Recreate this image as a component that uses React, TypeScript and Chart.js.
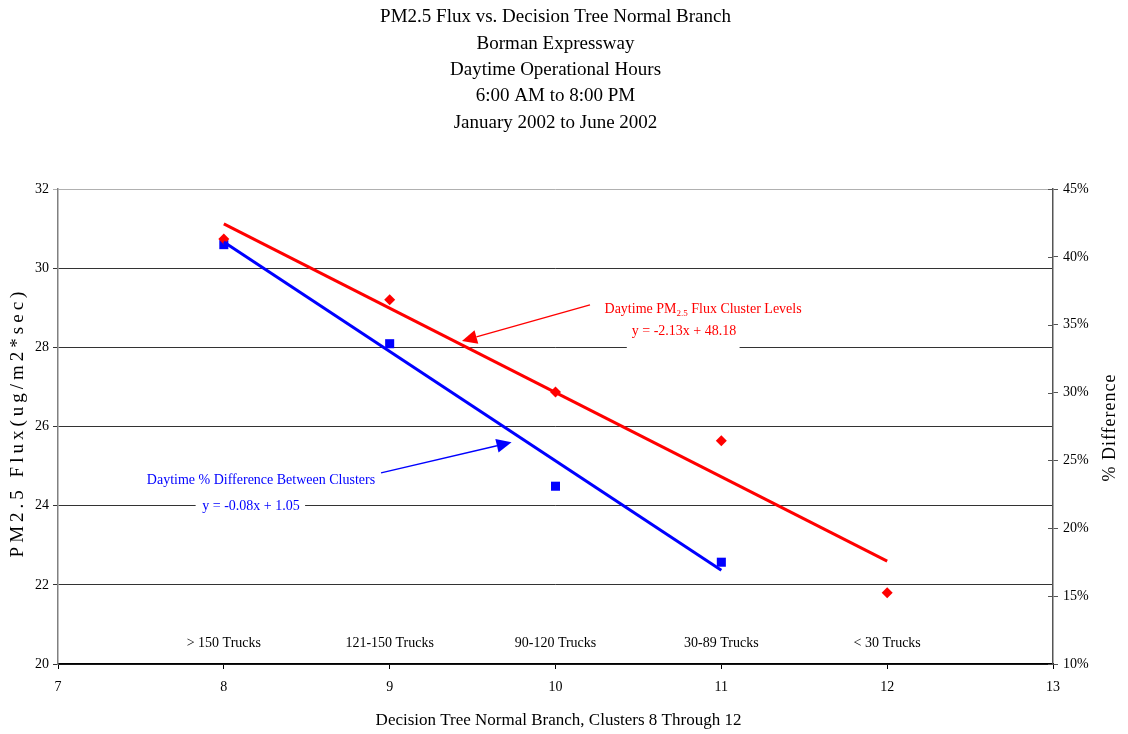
import React, { useEffect, useRef } from 'react';
import { Chart, registerables } from 'chart.js';

Chart.register(...registerables);

const FONT = '"Liberation Serif", "Times New Roman", serif';

const titleLines = [
  'PM2.5 Flux vs. Decision Tree Normal Branch',
  'Borman Expressway',
  'Daytime Operational Hours',
  '6:00 AM to 8:00 PM',
  'January 2002 to June 2002',
];

const fluxClusters = [8, 9, 10, 11, 12];
const fluxValues = [30.74, 29.2, 26.87, 25.64, 21.8];

const pctClusters = [8, 9, 10, 11];
const pctValues = [40.9, 33.6, 23.1, 17.5];

const fluxTrendX = [8, 12];
const fluxTrendY = [31.12, 22.6];

const pctTrendX = [8, 11];
const pctTrendY = [41.1, 16.9];

const categoryLabels = ['> 150 Trucks', '121-150 Trucks', '90-120 Trucks', '30-89 Trucks', '< 30 Trucks'];
const categoryLabelY = 20.53;

const xAxisTitle = 'Decision Tree Normal Branch, Clusters 8 Through 12';
const yAxisTitle = 'PM2.5 Flux(ug/m2*sec)';
const y1AxisTitle = '% Difference';

const fluxLabel = ['Daytime PM', '2.5', ' Flux Cluster Levels'];
const fluxEquation = 'y = -2.13x + 48.18';
const pctLabel = 'Daytime % Difference Between Clusters';
const pctEquation = 'y = -0.08x + 1.05';

function drawArrow(ctx: CanvasRenderingContext2D, x1: number, y1: number, x2: number, y2: number, color: string) {
  const ang = Math.atan2(y2 - y1, x2 - x1);
  const head = 15;
  const hw = 7;
  const bx = x2 - head * Math.cos(ang);
  const by = y2 - head * Math.sin(ang);
  ctx.save();
  ctx.strokeStyle = color;
  ctx.fillStyle = color;
  ctx.lineWidth = 1.3;
  ctx.beginPath();
  ctx.moveTo(x1, y1);
  ctx.lineTo(bx, by);
  ctx.stroke();
  ctx.beginPath();
  ctx.moveTo(x2, y2);
  ctx.lineTo(bx + hw * Math.sin(ang), by - hw * Math.cos(ang));
  ctx.lineTo(bx - hw * Math.sin(ang), by + hw * Math.cos(ang));
  ctx.closePath();
  ctx.fill();
  ctx.restore();
}

const annotPlugin = {
  id: 'annot',
  afterDraw(chart: any) {
    const ctx: CanvasRenderingContext2D = chart.ctx;
    const xs = chart.scales.x;
    const ys = chart.scales.y;
    const y1s = chart.scales.y1;
    const area = chart.chartArea;
    const px = (v: number) => xs.getPixelForValue(v);
    const py = (v: number) => ys.getPixelForValue(v);

    ctx.save();
    // inward ticks on right axis
    ctx.strokeStyle = '#555';
    ctx.lineWidth = 1;
    y1s.ticks.forEach((t: any) => {
      const yy = Math.round(y1s.getPixelForValue(t.value)) + 0.5;
      ctx.beginPath();
      ctx.moveTo(area.right - 5, yy);
      ctx.lineTo(area.right, yy);
      ctx.stroke();
    });

    // category labels
    ctx.fillStyle = '#000';
    ctx.font = `14px ${FONT}`;
    ctx.textAlign = 'center';
    ctx.textBaseline = 'middle';
    categoryLabels.forEach((lab, i) => {
      ctx.fillText(lab, px(fluxClusters[i]), py(categoryLabelY));
    });

    // axis titles
    ctx.fillStyle = '#000';
    ctx.font = `17px ${FONT}`;
    ctx.fillText(xAxisTitle, (area.left + area.right) / 2 + 3, 721);

    ctx.save();
    ctx.translate(18, (area.top + area.bottom) / 2 - 4);
    ctx.rotate(-Math.PI / 2);
    ctx.font = `19px ${FONT}`;
    (ctx as any).letterSpacing = '4px';
    ctx.fillText(yAxisTitle, 0, 0);
    ctx.restore();

    ctx.save();
    ctx.translate(1110, (area.top + area.bottom) / 2 + 1);
    ctx.rotate(-Math.PI / 2);
    ctx.font = `18px ${FONT}`;
    (ctx as any).letterSpacing = '1px';
    ctx.fillText(y1AxisTitle, 0, 0);
    ctx.restore();

    // red annotation
    const redEqX = px(10.775);
    const redEqY = py(28.41);
    ctx.fillStyle = '#fff';
    ctx.fillRect(px(10.43), redEqY - 12, px(11.11) - px(10.43), 30);
    ctx.fillStyle = '#ff0000';
    ctx.font = `14px ${FONT}`;
    ctx.textAlign = 'center';
    ctx.fillText(fluxEquation, redEqX, redEqY);
    // label with subscript
    const lx = px(10.89);
    const ly = py(28.97);
    ctx.font = `14px ${FONT}`;
    const w0 = ctx.measureText(fluxLabel[0]).width;
    const w2 = ctx.measureText(fluxLabel[2]).width;
    ctx.font = `9px ${FONT}`;
    const w1 = ctx.measureText(fluxLabel[1]).width;
    let sx = lx - (w0 + w1 + w2) / 2;
    ctx.textAlign = 'left';
    ctx.font = `14px ${FONT}`;
    ctx.fillText(fluxLabel[0], sx, ly);
    sx += w0;
    ctx.font = `9px ${FONT}`;
    ctx.fillText(fluxLabel[1], sx, ly + 5);
    sx += w1;
    ctx.font = `14px ${FONT}`;
    ctx.fillText(fluxLabel[2], sx, ly);
    drawArrow(ctx, px(10.208), py(29.07), px(9.436), py(28.16), '#ff0000');

    // blue annotation
    const beqX = px(8.164);
    const beqY = py(23.99);
    ctx.fillStyle = '#fff';
    ctx.fillRect(px(7.83), beqY - 12, px(8.49) - px(7.83), 24);
    ctx.fillStyle = '#0000ff';
    ctx.textAlign = 'center';
    ctx.font = `14px ${FONT}`;
    ctx.fillText(pctEquation, beqX, beqY);
    ctx.fillText(pctLabel, px(8.224), py(24.65));
    drawArrow(ctx, px(8.948), py(24.83), px(9.735), py(25.6), '#0000ff');
    ctx.restore();
  },
};

export default function App() {
  const ref = useRef<HTMLCanvasElement>(null);

  useEffect(() => {
    if (!ref.current) return;
    const chart = new Chart(ref.current, {
      type: 'scatter',
      data: {
        datasets: [
          {
            label: 'Flux trend',
            data: fluxTrendX.map((x, i) => ({ x, y: fluxTrendY[i] })),
            showLine: true,
            borderColor: '#ff0000',
            borderWidth: 3,
            pointRadius: 0,
            yAxisID: 'y',
          },
          {
            label: 'Pct trend',
            data: pctTrendX.map((x, i) => ({ x, y: pctTrendY[i] })),
            showLine: true,
            borderColor: '#0000ff',
            borderWidth: 3,
            pointRadius: 0,
            yAxisID: 'y1',
          },
          {
            label: 'Flux',
            data: fluxClusters.map((x, i) => ({ x, y: fluxValues[i] })),
            pointStyle: 'rectRot',
            pointRadius: 5.5,
            backgroundColor: '#ff0000',
            borderColor: '#ff0000',
            borderWidth: 0,
            yAxisID: 'y',
          },
          {
            label: 'Pct',
            data: pctClusters.map((x, i) => ({ x, y: pctValues[i] })),
            pointStyle: 'rect',
            pointRadius: 6.4,
            backgroundColor: '#0000ff',
            borderColor: '#0000ff',
            borderWidth: 0,
            yAxisID: 'y1',
          },
        ],
      },
      options: {
        responsive: false,
        animation: false,
        layout: { padding: 0 },
        plugins: {
          legend: { display: false },
          tooltip: { enabled: false },
          title: {
            display: true,
            fullSize: false,
            text: titleLines,
            color: '#000',
            font: { family: FONT, size: 19, weight: 'normal', lineHeight: 26.4 / 19 },
            padding: { top: 4, bottom: 53 },
          },
        },
        scales: {
          x: {
            type: 'linear',
            min: 7,
            max: 13,
            ticks: {
              stepSize: 1,
              color: '#000',
              font: { family: FONT, size: 14 },
              padding: 10,
            },
            grid: { drawOnChartArea: false, drawTicks: true, tickLength: 5, color: '#000' },
            border: { color: '#000', width: 1.5 },
            afterFit: (s: any) => {
              s.height = 70;
            },
          },
          y: {
            type: 'linear',
            position: 'left',
            min: 20,
            max: 32,
            ticks: {
              stepSize: 2,
              color: '#000',
              font: { family: FONT, size: 14 },
              padding: 4,
            },
            grid: {
              tickLength: 5,
              color: (c: any) => (c.tick && c.tick.value === 32 ? '#b0b0b0' : '#333'),
            },
            border: { color: '#808080', width: 1.5 },
            afterFit: (s: any) => {
              s.width = 58;
            },
          },
          y1: {
            type: 'linear',
            position: 'right',
            min: 10,
            max: 45,
            ticks: {
              stepSize: 5,
              color: '#000',
              font: { family: FONT, size: 14 },
              padding: 5,
              callback: (v: any) => `${v}%`,
            },
            grid: { drawOnChartArea: false, tickLength: 5, color: '#555' },
            border: { color: '#555', width: 1.5 },
            afterFit: (s: any) => {
              s.width = 75;
            },
          },
        },
      },
      plugins: [annotPlugin],
    });
    return () => chart.destroy();
  }, []);

  return (
    <div style={{ position: 'absolute', left: 0, top: 0, width: 1128, height: 734, background: '#fff' }}>
      <canvas ref={ref} width={1128} height={734} style={{ display: 'block' }} />
    </div>
  );
}
